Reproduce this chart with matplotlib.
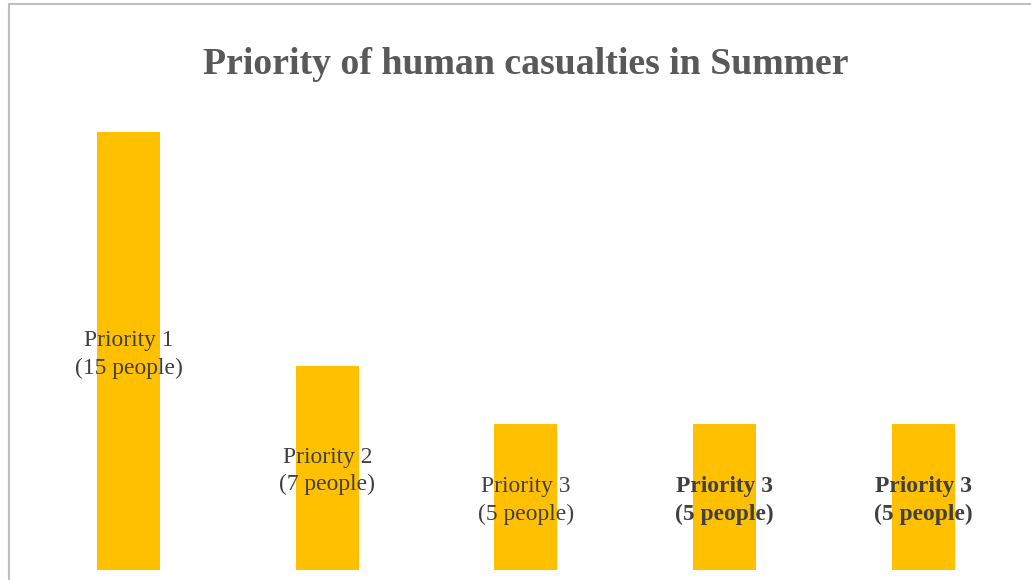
import matplotlib
matplotlib.use("Agg")
import matplotlib.pyplot as plt
from matplotlib.patches import Rectangle

categories = ["Priority 1", "Priority 2", "Priority 3", "Priority 3", "Priority 3"]
people = [15, 7, 5, 5, 5]
bold_label = [False, False, False, True, True]

W, H = 1031, 580
fig = plt.figure(figsize=(W / 100, H / 100), dpi=100)
fig.patch.set_facecolor("white")

# chart frame (light gray border, open at right and bottom)
fig.add_artist(Rectangle((8.5 / W, -0.1), 1.2, (H - 4.5) / H + 0.1,
                         transform=fig.transFigure, fill=False,
                         edgecolor="#BFBFBF", linewidth=1.5))

ax = fig.add_axes([29.1 / W, 10 / H, 993.75 / W, 467.2 / H])
x = list(range(len(people)))
ax.bar(x, people, width=0.317, color="#FFC000")
ax.set_xlim(-0.5, len(people) - 0.5)
ax.set_ylim(0, 16)
ax.axis("off")

for xi, cat, v, b in zip(x, categories, people, bold_label):
    ax.annotate(f"{cat}\n({v} people)", xy=(xi, v / 2), xytext=(0, -2.5),
                textcoords="offset points", ha="center", va="center",
                fontsize=16.9, family="Liberation Serif",
                fontweight="bold" if b else "normal", color="#404040",
                linespacing=1.38)

fig.text(0.5 * (203 + 849) / W, 1 - 64.5 / H, "Priority of human casualties in Summer",
         ha="center", va="center", fontsize=27.2, family="Liberation Serif",
         fontweight="bold", color="#595959")

fig.savefig("out.png", dpi=100)
